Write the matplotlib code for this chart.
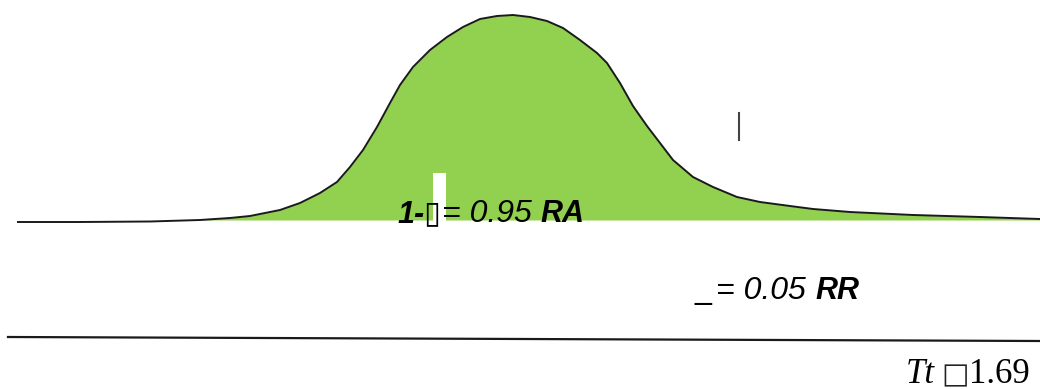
import matplotlib.pyplot as plt
import numpy as np

# curve: horizontal position and height above the baseline
curve_x = [18, 80, 150, 200, 230, 250, 265, 280, 300, 320, 337, 350, 363, 377, 390, 400,
           413, 430, 447, 463, 480, 497, 513, 530, 547, 563, 580, 597, 607, 620, 633,
           647, 660, 673, 693, 713, 737, 760, 790, 813, 850, 913, 980, 1040]
curve_h = [-2, -2, -1.5, 0, 2, 4, 7, 10, 17, 27, 38, 53, 70, 93, 117, 135,
           153, 170, 183, 193, 201, 204, 205, 203, 199, 192, 180, 167, 157, 137, 114,
           94, 77, 60, 43, 33, 23, 18, 14, 11, 8, 5, 3, 1]

label_area = ["1-\u25af", "= 0.95", "RA"]
label_tail = ["_", "= 0.05", "RR"]
label_crit = ["Tt", "\u25a1", "1.69"]

green = "#92d050"

fig = plt.figure(figsize=(10.4, 3.89), dpi=100)
ax = fig.add_axes([0, 0, 1, 1])
ax.set_xlim(0, 1040)
ax.set_ylim(220 - 389, 220)
ax.axis("off")

x = np.array(curve_x)
h = np.array(curve_h)
ax.fill_between(x, 0, h, where=h > 0, interpolate=True, color=green, lw=0)
ax.plot(x, h, color="#1a1a1a", lw=1.4, solid_joinstyle="round")

# lower axis line
ax.plot([8, 1040], [220 - 337, 220 - 341], color="#1a1a1a", lw=1.6)

# white bar and small tick
ax.add_patch(plt.Rectangle((433, 220 - 221), 13, 48, color="white", lw=0))
ax.plot([739, 739], [220 - 113, 220 - 140], color="#444444", lw=1.5)

sans = ["Liberation Sans", "DejaVu Sans"]
serif = ["Liberation Serif", "DejaVu Sans"]
bi = dict(family=sans, style="italic", weight="bold", fontsize=22, va="baseline")
it = dict(family=sans, style="italic", fontsize=23, va="baseline")
renderer = fig.canvas.get_renderer()


def row(x0, y, pieces):
    # put text pieces one after another, each starting where the last one ends
    xpos = x0
    for txt, gap, kw in pieces:
        t = ax.text(xpos + gap, y, txt, **kw)
        bb = t.get_window_extent(renderer)
        xpos = ax.transData.inverted().transform((bb.x1, bb.y0))[0]


row(398, 220 - 222, [
    (label_area[0], 0, bi),
    (label_area[1], 0, it),
    (label_area[2], 9, bi),
])
row(694, 220 - 299, [
    (label_tail[0], 0, dict(family=sans, fontsize=22, va="baseline")),
    (label_tail[1], 5, it),
    (label_tail[2], 10, bi),
])
row(906, 220 - 383, [
    (label_crit[0], 0, dict(family=serif, style="italic", fontsize=25, va="baseline")),
    (label_crit[1], 6, dict(family=["DejaVu Sans"], fontsize=21, va="baseline", color="#222222")),
    (label_crit[2], 0, dict(family=serif, fontsize=25, va="baseline")),
])

fig.savefig("out.png", dpi=100)
